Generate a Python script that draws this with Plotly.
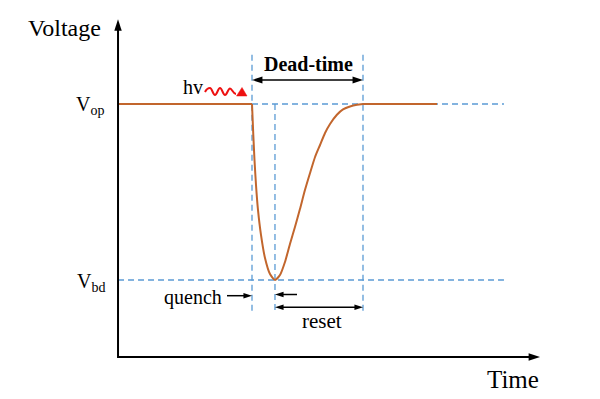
import plotly.graph_objects as go

# ---------------- data (time in arbitrary units, voltage normalised: Vbd = 0, Vop = 1) ----------------
# bias held at Vop before the photon
t_before = [-12.07, 0.0]
v_before = [1.0, 1.0]
# avalanche quench and recharge (dead time)
t_pulse = [0.0, 0.117, 0.225, 0.36, 0.54, 0.81, 1.17, 1.62, 2.07,
           2.52, 2.97, 3.42, 3.87, 4.32, 4.77, 5.23, 5.68, 6.13, 6.58, 7.03, 7.63,
           8.20, 8.83, 9.46, 10.0]
v_pulse = [1.0, 0.824, 0.682, 0.540, 0.398, 0.256, 0.125, 0.034, 0.0,
           0.028, 0.102, 0.205, 0.301, 0.403, 0.511, 0.608, 0.699, 0.767, 0.835, 0.886, 0.9375,
           0.969, 0.986, 0.996, 1.0]
# back at Vop after reset
t_after = [10.0, 16.67]
v_after = [1.0, 1.0]

V_OP = 1.0
V_BD = 0.0
T_PHOTON = 0.0      # photon arrival / start of quench
T_QUENCH = 2.07     # end of quench (minimum)
T_DEAD = 10.0       # end of dead time / reset

level_labels = ["V<sub>op</sub>", "V<sub>bd</sub>"]
level_values = [V_OP, V_BD]

# axis frame
T_ORIGIN = -12.07
V_ORIGIN = -0.4375
T_AXIS_END = 25.95
V_AXIS_END = 1.481
T_GUIDE_END = 22.7
V_GUIDE_TOP = 1.28
V_GUIDE_BOTTOM = -0.186

# view window
X_RANGE = [-22.7027, 31.3514]
Y_RANGE = [-0.67614, 1.59091]

ORANGE = "#C2662D"
BLUE = "#5B9BD5"
RED = "#EE1111"
FONT = "Liberation Serif"

# scale helpers (pixels per data unit) used for decorations
PX_T = 11.1
PX_V = 176.0
def dx(px):
    return (px - 252.0) / PX_T
def dy(py):
    return (280.0 - py) / PX_V

fig = go.Figure()

for tx, vy, shp in [(t_before, v_before, "linear"), (t_pulse, v_pulse, "spline"), (t_after, v_after, "linear")]:
    fig.add_trace(go.Scatter(
        x=tx, y=vy, mode="lines",
        line=dict(color=ORANGE, width=2, shape=shp, smoothing=0.6),
        hoverinfo="skip", showlegend=False))

shapes = []
dash = "6px,4px"
def guide(x0, y0, x1, y1):
    shapes.append(dict(type="line", xref="x", yref="y", x0=x0, y0=y0, x1=x1, y1=y1,
                       line=dict(color=BLUE, width=1.3, dash=dash), layer="below"))

guide(T_PHOTON, V_OP, T_GUIDE_END, V_OP)
guide(T_ORIGIN, V_BD, T_GUIDE_END, V_BD)
guide(T_PHOTON, V_GUIDE_TOP, T_PHOTON, V_GUIDE_BOTTOM)
guide(T_DEAD, V_GUIDE_TOP, T_DEAD, V_GUIDE_BOTTOM)
guide(T_QUENCH, V_OP, T_QUENCH, V_GUIDE_BOTTOM)

# photon squiggle (decoration)
pts = [(205, 92), (206.5, 89), (208.5, 88), (210, 88), (212, 88), (213, 95), (215, 95),
       (217, 95), (218, 88), (220, 88), (222, 88), (223, 95), (225, 95),
       (227, 95), (228, 88.5), (230, 88.5), (232, 88.5), (233, 94), (236, 94)]
def P(p):
    return f"{dx(p[0]):.4f},{dy(p[1]):.4f}"
path = "M" + P(pts[0])
i = 1
while i + 2 < len(pts):
    path += " C" + P(pts[i]) + " " + P(pts[i + 1]) + " " + P(pts[i + 2])
    i += 3
path += " L" + P(pts[-1])
shapes.append(dict(type="path", xref="x", yref="y", path=path,
                   line=dict(color=RED, width=2)))
tri = "M" + P((236.5, 96)) + " L" + P((247, 96)) + " L" + P((242, 87.5)) + " Z"
shapes.append(dict(type="path", xref="x", yref="y", path=tri,
                   fillcolor=RED, line=dict(color=RED, width=0.5)))

def arrow(x0, y0, x1, y1, size, width, both=False):
    """Line from tail (x0,y0) to head (x1,y1) with arrowhead markers."""
    head_px = 0.951 * size * 0.85
    if y0 == y1:
        sgn = 1 if x1 > x0 else -1
        ang_head = 90 if sgn > 0 else 270
        back = head_px / PX_T * sgn
        lx0 = x0 + back if both else x0
        lx1 = x1 - back
        lines_x, lines_y = [lx0, lx1], [y0, y1]
    else:
        sgn = 1 if y1 > y0 else -1
        ang_head = 0 if sgn > 0 else 180
        back = head_px / PX_V * sgn
        ly0 = y0 + back if both else y0
        ly1 = y1 - back
        lines_x, lines_y = [x0, x1], [ly0, ly1]
    fig.add_trace(go.Scatter(x=lines_x, y=lines_y, mode="lines",
                             line=dict(color="black", width=width),
                             hoverinfo="skip", showlegend=False))
    mx, my, ma = [x1], [y1], [ang_head]
    if both:
        mx.append(x0)
        my.append(y0)
        ma.append((ang_head + 180) % 360)
    fig.add_trace(go.Scatter(x=mx, y=my, mode="markers",
                             marker=dict(symbol="arrow", size=size, angle=ma, color="black",
                                         line=dict(width=0)),
                             hoverinfo="skip", showlegend=False))

# axes
arrow(T_ORIGIN, V_ORIGIN - 1.0 / PX_V, T_ORIGIN, V_AXIS_END, size=12, width=2)
arrow(T_ORIGIN, V_ORIGIN, T_AXIS_END, V_ORIGIN, size=12, width=2)
# dead-time
arrow(T_PHOTON, dy(80), T_DEAD, dy(80), size=11, width=1.5, both=True)
# quench
arrow(dx(227), dy(295.7), T_PHOTON, dy(295.7), size=9, width=1.5)
arrow(dx(297), dy(294.5), T_QUENCH, dy(294.5), size=9, width=1.5)
# reset
arrow(T_QUENCH, dy(307.3), T_DEAD, dy(307.3), size=9, width=1.5, both=True)

annotations = []
def label(text, x, y, size, bold=False):
    annotations.append(dict(x=x, y=y, xref="x", yref="y", text=f"<b>{text}</b>" if bold else text,
                            showarrow=False, xanchor="center", yanchor="middle",
                            font=dict(family=FONT, size=size, color="black")))

label("Voltage", dx(64), dy(28), 24)
label("Time", dx(513), dy(379), 25)
label(level_labels[0], dx(90), level_values[0] - 0.01, 20)
label(level_labels[1], dx(91), level_values[1] - 0.017, 20)
label("hv", dx(193), dy(87), 20)
label("Dead-time", (T_PHOTON + T_DEAD) / 2 + 0.05, dy(63.5), 20, bold=True)
label("quench", dx(192.5), dy(297.5), 20)
label("reset", dx(322), dy(321), 21)

fig.update_layout(
    width=600, height=399, margin=dict(l=0, r=0, t=0, b=0),
    paper_bgcolor="white", plot_bgcolor="white", showlegend=False,
    xaxis=dict(range=X_RANGE, visible=False, fixedrange=True),
    yaxis=dict(range=Y_RANGE, visible=False, fixedrange=True),
    shapes=shapes, annotations=annotations,
)

fig.write_html("out.html", config={"displayModeBar": False, "staticPlot": True},
               post_script="document.body.style.margin='0';")
